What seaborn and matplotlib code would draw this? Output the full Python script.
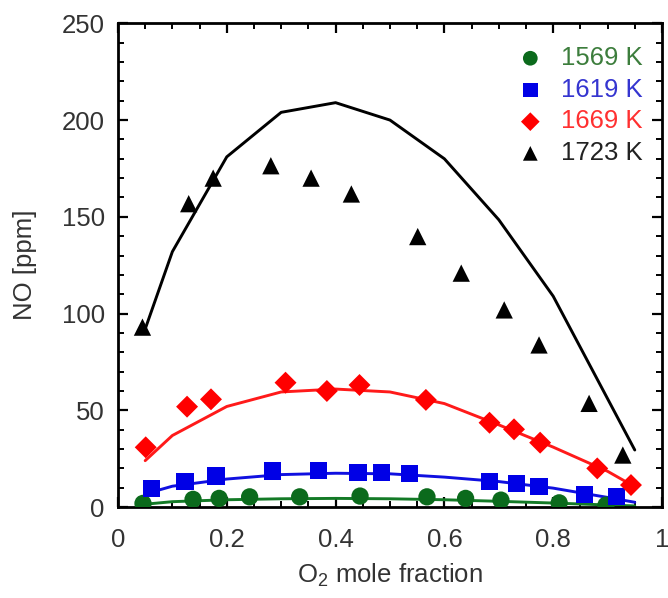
import numpy as np
import pandas as pd
import seaborn as sns
import matplotlib
matplotlib.use("Agg")
import matplotlib.pyplot as plt
from matplotlib.ticker import MultipleLocator, FixedLocator, FixedFormatter

# ---------------- data ----------------
series_names = ["1569 K", "1619 K", "1669 K", "1723 K"]

# measured points
x_1569 = [0.046, 0.138, 0.186, 0.242, 0.334, 0.445, 0.568, 0.639, 0.704, 0.811, 0.897]
y_1569 = [1.9, 4.0, 4.5, 5.3, 5.3, 5.7, 5.3, 4.5, 3.6, 2.2, 1.0]

x_1619 = [0.062, 0.123, 0.180, 0.284, 0.369, 0.441, 0.484, 0.536, 0.683, 0.732, 0.774, 0.857, 0.916]
y_1619 = [9.7, 13.1, 16.0, 18.6, 18.8, 18.0, 18.0, 17.4, 13.1, 12.3, 10.5, 6.6, 5.3]

x_1669 = [0.051, 0.127, 0.171, 0.308, 0.384, 0.444, 0.566, 0.683, 0.728, 0.776, 0.881, 0.943]
y_1669 = [30.9, 51.9, 55.7, 64.3, 60.0, 63.1, 55.4, 43.6, 40.2, 33.3, 20.0, 11.4]

x_1723 = [0.045, 0.130, 0.175, 0.281, 0.355, 0.429, 0.551, 0.631, 0.710, 0.774, 0.866, 0.928]
y_1723 = [93.0, 156.8, 170.0, 176.4, 170.0, 161.8, 139.8, 120.9, 101.9, 83.8, 53.6, 26.9]

# model curves
x_model = [0.05, 0.1, 0.2, 0.3, 0.4, 0.5, 0.6, 0.7, 0.8, 0.9, 0.95]
m_1569 = [1.5, 2.8, 3.8, 4.3, 4.5, 4.3, 3.8, 3.0, 2.1, 1.1, 0.6]
m_1619 = [6.8, 10.8, 14.5, 16.8, 17.5, 17.2, 15.5, 13.2, 9.8, 5.0, 2.5]
m_1669 = [24.0, 37.0, 52.0, 59.5, 61.0, 59.5, 53.5, 42.5, 31.0, 18.5, 10.5]
m_1723 = [92.0, 132.0, 181.0, 204.0, 209.0, 200.0, 180.0, 148.5, 109.0, 56.0, 29.5]

x_ticks = [0, 0.2, 0.4, 0.6, 0.8, 1.0]
x_tick_labels = ["0", "0.2", "0.4", "0.6", "0.8", "1"]
y_ticks = [0, 50, 100, 150, 200, 250]
y_tick_labels = ["0", "50", "100", "150", "200", "250"]

# ---------------- frames ----------------
pts = pd.concat([
    pd.DataFrame({"x": x_1569, "y": y_1569, "T": series_names[0]}),
    pd.DataFrame({"x": x_1619, "y": y_1619, "T": series_names[1]}),
    pd.DataFrame({"x": x_1669, "y": y_1669, "T": series_names[2]}),
    pd.DataFrame({"x": x_1723, "y": y_1723, "T": series_names[3]}),
], ignore_index=True)

mod = pd.concat([
    pd.DataFrame({"x": x_model, "y": m, "T": n})
    for m, n in zip([m_1569, m_1619, m_1669, m_1723], series_names)
], ignore_index=True)

# ---------------- style ----------------
sns.set_theme(style="ticks")
plt.rcParams["font.family"] = ["Liberation Sans", "DejaVu Sans"]
plt.rcParams["mathtext.fontset"] = "custom"
plt.rcParams["mathtext.rm"] = "Liberation Sans"

FS = 18.5
marker_colors = {"1569 K": "#0b6a1c", "1619 K": "#0000e6", "1669 K": "#ff0000", "1723 K": "#000000"}
line_colors = {"1569 K": "#137a26", "1619 K": "#1010e0", "1669 K": "#ff1a1a", "1723 K": "#000000"}
text_colors = ["#3c7d3c", "#3535d0", "#ff3030", "#222222"]
markers = {"1569 K": "o", "1619 K": "s", "1669 K": "D", "1723 K": "^"}
sizes = {"1569 K": 155, "1619 K": 155, "1669 K": 125, "1723 K": 155}

fig = plt.figure(figsize=(6.68, 5.98), dpi=100)
ax = fig.add_axes([0.1766, 0.152, 0.8144, 0.809])

sns.lineplot(data=mod, x="x", y="y", hue="T", palette=line_colors,
             linewidth=2.1, legend=False, ax=ax, sort=False)

for name in series_names:
    sub = pts[pts["T"] == name]
    sns.scatterplot(data=sub, x="x", y="y", color=marker_colors[name],
                    marker=markers[name], s=sizes[name], edgecolor="none",
                    label=name, ax=ax, zorder=3)

ax.set_xlim(0, 1)
ax.set_ylim(0, 250)
ax.xaxis.set_major_locator(FixedLocator(x_ticks))
ax.xaxis.set_major_formatter(FixedFormatter(x_tick_labels))
ax.yaxis.set_major_locator(FixedLocator(y_ticks))
ax.yaxis.set_major_formatter(FixedFormatter(y_tick_labels))
ax.xaxis.set_minor_locator(MultipleLocator(0.05))
ax.yaxis.set_minor_locator(MultipleLocator(10))

ax.tick_params(which="both", direction="in", top=True, right=True, colors="#000000")
ax.tick_params(which="major", length=7, width=1.6, labelsize=FS, labelcolor="#333333")
ax.tick_params(which="minor", length=4, width=1.4)
ax.tick_params(axis="x", which="major", pad=15)
ax.tick_params(axis="y", which="major", pad=9.5)
for sp in ax.spines.values():
    sp.set_linewidth(2.0)
    sp.set_color("#000000")

ax.set_xlabel("O$_2$ mole fraction", fontsize=FS, color="#333333", labelpad=7)
ax.set_ylabel("NO [ppm]", fontsize=FS, color="#333333", labelpad=18)

leg = ax.legend(loc="upper right", bbox_to_anchor=(0.993, 0.985), frameon=False,
                fontsize=FS, handletextpad=0.6, labelspacing=0.3,
                borderaxespad=0.2, handlelength=1.2, markerscale=0.85)
for t, c in zip(leg.get_texts(), text_colors):
    t.set_color(c)

fig.savefig("out.png", dpi=100, facecolor="white")
